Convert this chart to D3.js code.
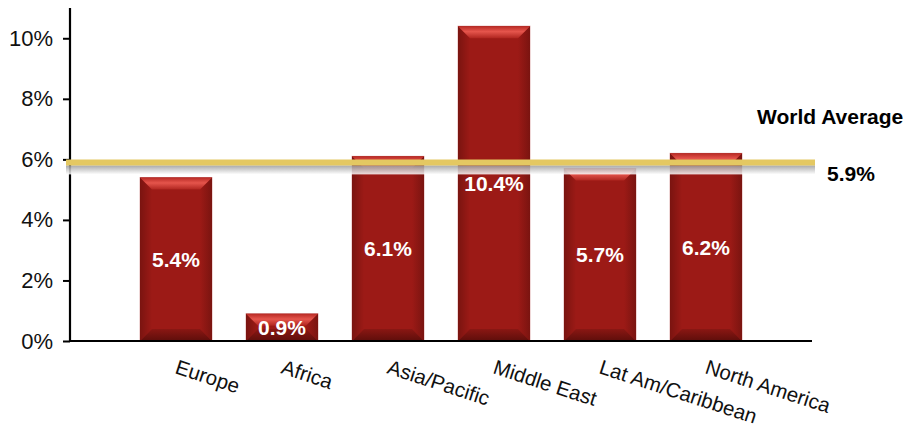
<!DOCTYPE html>
<html><head><meta charset="utf-8">
<script src="https://cdn.jsdelivr.net/npm/d3@7"></script>
<style>body{margin:0;background:#fff}svg{display:block;font-family:"Liberation Sans",Arial,sans-serif}</style>
</head><body>
<script>
const categories = ["Europe","Africa","Asia/Pacific","Middle East","Lat Am/Caribbean","North America"];
const values = [5.4, 0.9, 6.1, 10.4, 5.7, 6.2];
const valueLabels = ["5.4%","0.9%","6.1%","10.4%","5.7%","6.2%"];
const worldAverage = 5.9;
const worldAverageLabel = "5.9%";
const yTicks = [0,2,4,6,8,10];

const W=906,H=431;
const svg=d3.select("body").append("svg").attr("width",W).attr("height",H);
const defs=svg.append("defs");
function lg(id,stops,x2,y2){const g=defs.append("linearGradient").attr("id",id).attr("x1",0).attr("y1",0).attr("x2",x2).attr("y2",y2);
 stops.forEach(s=>g.append("stop").attr("offset",s[0]).attr("stop-color",s[1]));}
lg("gTop",[[0,"#b82a24"],[0.45,"#e5554c"],[1,"#b02620"]],0,1);
lg("gLeft",[[0,"#7a1410"],[1,"#9c1a16"]],1,0);
lg("gRight",[[0,"#9c1a16"],[1,"#7a1410"]],1,0);
lg("gBot",[[0,"#8a1713"],[1,"#5e0e0b"]],0,1);
lg("gShadow",[[0,"#9a9a9a"],[1,"#ffffff"]],0,1);

const x0=70,x1=812,yTop=8,yBase=341;
const x=d3.scalePoint().domain(categories).range([x0,x1]).padding(1);
const y=d3.scaleLinear().domain([0,11]).range([yBase,yTop]);
const bw=72,bev=12;

// y axis
const ya=svg.append("g").attr("transform",`translate(${x0},0)`)
 .call(d3.axisLeft(y).tickValues(yTicks).tickFormat(d=>d+"%").tickSize(7).tickPadding(10));
ya.select(".domain").attr("stroke","#000").attr("stroke-width",2.2).attr("d",`M0,${yTop}V${yBase}`);
ya.selectAll(".tick line").attr("stroke","#000").attr("stroke-width",2);
ya.selectAll(".tick text").attr("font-size",22).attr("fill","#111");

// bars
const bars=svg.append("g").selectAll("g").data(categories).join("g");
bars.each(function(c,i){
 const g=d3.select(this);
 const bx=x(c)-bw/2, by=y(values[i]), bh=yBase-by, b=Math.min(bev,bh/2);
 g.append("rect").attr("x",bx-0.5).attr("y",by-0.5).attr("width",bw+1).attr("height",bh+0.5).attr("fill","#e0b0b0");
 g.append("rect").attr("x",bx).attr("y",by).attr("width",bw).attr("height",bh).attr("fill","#9c1a16");
 const P=pts=>pts.map(p=>p.join(",")).join(" ");
 g.append("polygon").attr("points",P([[bx,by],[bx+b,by+b],[bx+b,yBase-b],[bx,yBase]])).attr("fill","url(#gLeft)");
 g.append("polygon").attr("points",P([[bx+bw,by],[bx+bw-b,by+b],[bx+bw-b,yBase-b],[bx+bw,yBase]])).attr("fill","url(#gRight)");
 g.append("polygon").attr("points",P([[bx,by],[bx+bw,by],[bx+bw-b,by+b],[bx+b,by+b]])).attr("fill","url(#gTop)");
 g.append("polygon").attr("points",P([[bx,yBase],[bx+bw,yBase],[bx+bw-b,yBase-b],[bx+b,yBase-b]])).attr("fill","url(#gBot)");
});

// x axis line
svg.append("line").attr("x1",x0-1).attr("x2",x1).attr("y1",yBase).attr("y2",yBase).attr("stroke","#000").attr("stroke-width",2.2);

// x labels
svg.append("g").selectAll("text").data(categories).join("text")
 .attr("transform",c=>`translate(${x(c)-2},${yBase+32}) rotate(18)`)
 .attr("font-size",20.5).attr("fill","#111").text(c=>c);

// world average line with shadow
const ay=y(worldAverage);
svg.append("rect").attr("x",x0-4).attr("y",ay+3).attr("width",x1+3-(x0-4)).attr("height",9).attr("fill","url(#gShadow)").attr("opacity",0.85);
svg.append("line").attr("x1",x0-4).attr("x2",x1+3).attr("y1",ay).attr("y2",ay).attr("stroke","#e4c862").attr("stroke-width",6);

// value labels
svg.append("g").selectAll("text").data(categories).join("text")
 .attr("x",c=>x(c)).attr("y",(c,i)=>(y(values[i])+yBase)/2+7.5)
 .attr("text-anchor","middle").attr("font-size",21).attr("font-weight","bold").attr("fill","#fff")
 .text((c,i)=>valueLabels[i]);

svg.append("text").attr("x",757).attr("y",124).attr("font-size",21).attr("font-weight","bold").attr("fill","#000").text("World Average");
svg.append("text").attr("x",827).attr("y",181).attr("font-size",21).attr("font-weight","bold").attr("fill","#000").text(worldAverageLabel);
</script>
</body></html>
